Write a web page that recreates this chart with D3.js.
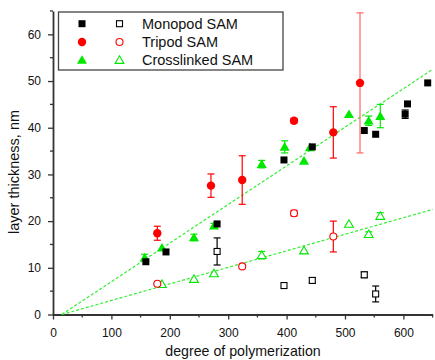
<!DOCTYPE html>
<meta charset="utf-8">
<style>
    body { margin: 0; background: #fff; }
    text { font-family: "Liberation Sans", Arial, sans-serif; fill: #111; }
    .axis path, .axis line { stroke: #333; }
</style>

<svg width="435" height="360"></svg>

<script src="https://d3js.org/d3.v7.min.js"></script>

<script>
    // data
    var monoX     = [159, 193.5, 281, 395.5, 444, 533, 552.5, 603, 607, 641.6];
    var monoY     = [11.3, 13.4, 19.4, 33.1, 35.9, 39.4, 38.6, 42.9, 45.1, 49.6];
    var monoErr   = [0, 0, 0, 0, 0, 0, 0, 0.9, 0, 0];
    var monoOpenX   = [281, 395.5, 444, 533, 552.5];
    var monoOpenY   = [13.5, 6.2, 7.3, 8.5, 4.4];
    var monoOpenErr = [2.9, 0, 0.6, 0.6, 1.7];

    var triX     = [178.6, 270.5, 324, 412.7, 480, 525.7];
    var triY     = [17.4, 27.6, 28.8, 41.5, 39.0, 49.6];
    var triErr   = [1.5, 2.5, 5.2, 0.5, 5.5, 15];
    var triOpenX   = [178.6, 324, 412.7, 480];
    var triOpenY   = [6.6, 10.3, 21.7, 16.7];
    var triOpenErr = [0, 0, 0.6, 3.3];

    var crossX     = [157, 186.6, 241.4, 275.7, 357.4, 396.7, 429.8, 440, 506.8, 540.6, 560.4];
    var crossY     = [12.2, 14.3, 16.5, 19.0, 32.2, 35.9, 32.9, 35.8, 42.9, 41.5, 42.5];
    var crossErr   = [0.7, 0, 0.7, 0.5, 0.8, 1.3, 0, 0, 0, 1.0, 2.5];
    var crossOpenX   = [186.6, 241.4, 275.7, 357.4, 429.8, 506.8, 540.6, 560.4];
    var crossOpenY   = [6.5, 7.6, 8.8, 12.7, 13.7, 19.4, 17.2, 21.1];
    var crossOpenErr = [0, 0, 0, 0.8, 0, 0, 0.5, 0.7];

    // dashed guide lines: [x start, x end], [y start, y end]
    var fitX      = [15, 650];
    var fitUpperY = [0, 52.5];
    var fitLowerY = [0, 22.5];

    var xMajor = [0, 100, 200, 300, 400, 500, 600];
    var xMinor = [50, 150, 250, 350, 450, 550, 650];
    var yMajor = [0, 10, 20, 30, 40, 50, 60];
    var yMinor = [5, 15, 25, 35, 45, 55, 65];

    var legendNames = ["Monopod SAM", "Tripod SAM", "Crosslinked SAM"];

    var RED = "#ff0000", GREEN = "#00e800", BLACK = "#000";

    var svg = d3.select("svg");

    var x = d3.scaleLinear().domain([0, 650]).range([53, 432.6]);
    var y = d3.scaleLinear().domain([0, 65]).range([314.5, 11]);

    // axes
    var gx = svg.append("g").attr("class", "axis")
            .attr("transform", "translate(0," + y(0) + ")")
            .call(d3.axisBottom(x).tickValues(xMajor).tickSize(5).tickPadding(8.5).tickSizeOuter(0));
    gx.append("g").selectAll("line").data(xMinor).enter().append("line")
            .attr("x1", function (d) { return x(d); }).attr("x2", function (d) { return x(d); })
            .attr("y1", 0).attr("y2", 3).attr("stroke", "#333").attr("stroke-width", 1.3);

    var gy = svg.append("g").attr("class", "axis")
            .attr("transform", "translate(" + x(0) + ",0)")
            .call(d3.axisLeft(y).tickValues(yMajor).tickSize(5).tickPadding(7).tickSizeOuter(0));
    gy.append("g").selectAll("line").data(yMinor).enter().append("line")
            .attr("y1", function (d) { return y(d); }).attr("y2", function (d) { return y(d); })
            .attr("x1", 0).attr("x2", -3).attr("stroke", "#333").attr("stroke-width", 1.3);

    svg.selectAll(".axis path").attr("stroke-width", 1.8);
    svg.selectAll(".axis .tick line").attr("stroke-width", 1.3);
    svg.selectAll(".axis text").attr("font-size", 12).attr("fill", "#111")
            .attr("font-family", "Liberation Sans, Arial, sans-serif");

    // axis titles
    svg.append("text").attr("x", 243).attr("y", 356).attr("text-anchor", "middle")
            .attr("font-size", 14.2).text("degree of polymerization");
    svg.append("text").attr("transform", "translate(19,172) rotate(-90)")
            .attr("text-anchor", "middle").attr("font-size", 14.5).text("layer thickness, nm");

    // dashed lines
    var line = d3.line().x(function (d) { return x(d[0]); }).y(function (d) { return y(d[1]); });
    [fitUpperY, fitLowerY].forEach(function (fy) {
        svg.append("path").datum(d3.zip(fitX, fy)).attr("d", line)
                .attr("fill", "none").attr("stroke", "#33ee33").attr("stroke-width", 1.2)
                .attr("stroke-dasharray", "3,2");
    });

    function series(xs, ys, es, color, shape, open, errColor) {
        var pts = d3.zip(xs, ys, es);
        var g = svg.append("g");
        pts.forEach(function (p) {
            if (p[2] > 0) {
                var eg = g.append("g").attr("stroke", errColor || color).attr("stroke-width", 1.2);
                eg.append("line").attr("x1", x(p[0])).attr("x2", x(p[0]))
                        .attr("y1", y(p[1] - p[2])).attr("y2", y(p[1] + p[2]));
                [p[1] - p[2], p[1] + p[2]].forEach(function (v) {
                    eg.append("line").attr("x1", x(p[0]) - 3.5).attr("x2", x(p[0]) + 3.5)
                            .attr("y1", y(v)).attr("y2", y(v));
                });
            }
        });
        pts.forEach(function (p) {
            marker(g, x(p[0]), y(p[1]), color, shape, open);
        });
    }

    function marker(g, cx, cy, color, shape, open) {
        var m;
        if (shape === "square") {
            var s = open ? 6 : 7;
            m = g.append("rect").attr("x", cx - s / 2).attr("y", cy - s / 2).attr("width", s).attr("height", s);
        } else if (shape === "circle") {
            m = g.append("circle").attr("cx", cx).attr("cy", cy).attr("r", open ? 3.5 : 4.2);
        } else {
            var h = open ? 4.2 : 4.8;
            m = g.append("path").attr("d", "M" + cx + "," + (cy - h) + "L" + (cx + h * 1.05) + "," + (cy + h * 0.8)
                    + "L" + (cx - h * 1.05) + "," + (cy + h * 0.8) + "Z");
        }
        if (open) m.attr("fill", "#fff").attr("stroke", color).attr("stroke-width", 1.1);
        else m.attr("fill", color);
    }

    series(crossOpenX, crossOpenY, crossOpenErr, GREEN, "triangle", true);
    series(crossX, crossY, crossErr, GREEN, "triangle", false);
    series(monoOpenX, monoOpenY, monoOpenErr, BLACK, "square", true);
    series(monoX, monoY, monoErr, BLACK, "square", false);
    series(triOpenX, triOpenY, triOpenErr, RED, "circle", true);
    series(triX.slice(0, 5), triY.slice(0, 5), triErr.slice(0, 5), RED, "circle", false);
    series(triX.slice(5), triY.slice(5), triErr.slice(5), RED, "circle", false, "#ff6666");

    // legend
    var lg = svg.append("g");
    lg.append("rect").attr("x", 58.5).attr("y", 12).attr("width", 224.5).attr("height", 58)
            .attr("fill", "#fff").attr("stroke", "#444").attr("stroke-width", 1.3);
    var legendColors = [BLACK, RED, GREEN];
    var legendShapes = ["square", "circle", "triangle"];
    var rowY = [23.7, 42, 60];
    legendNames.forEach(function (name, i) {
        marker(lg, 82, rowY[i], legendColors[i], legendShapes[i], false);
        marker(lg, 119.5, rowY[i], legendColors[i], legendShapes[i], true);
        lg.append("text").attr("x", 142).attr("y", rowY[i] + 5.2).attr("font-size", 14.5).text(name);
    });
</script>
